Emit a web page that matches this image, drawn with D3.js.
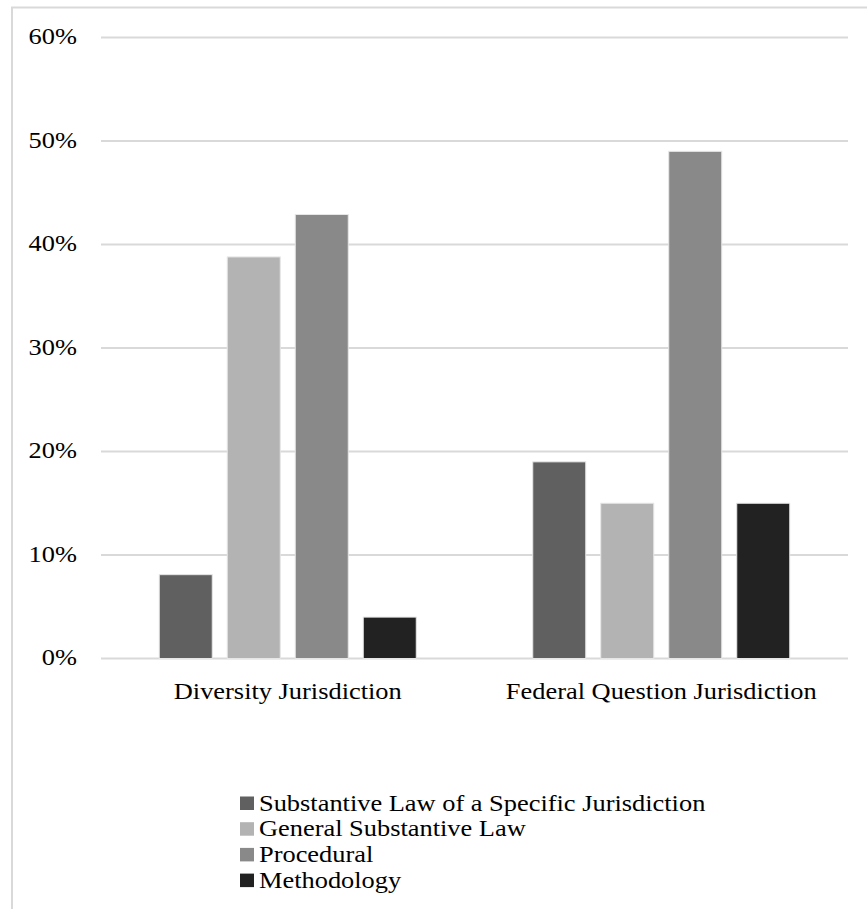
<!DOCTYPE html>
<html><head><meta charset="utf-8">
<script src="https://cdn.jsdelivr.net/npm/d3@7"></script>
<style>body{margin:0;background:#fff;} svg{display:block;}</style>
</head><body>
<script>
const categories = ["Diversity Jurisdiction", "Federal Question Jurisdiction"];
const seriesNames = ["Substantive Law of a Specific Jurisdiction", "General Substantive Law", "Procedural", "Methodology"];
const seriesValues = [
  [0.081, 0.19],
  [0.388, 0.15],
  [0.429, 0.49],
  [0.04, 0.15]
];
const seriesColors = ["#606060", "#b3b3b3", "#898989", "#222222"];
const yTicks = [0, 0.1, 0.2, 0.3, 0.4, 0.5, 0.6];

const W = 867, H = 909;
const FONT = "'Liberation Serif', 'Times New Roman', serif";
const FS = 24, SX = 1.1;
const svg = d3.select("body").append("svg").attr("width", W).attr("height", H);

function stretch(sel) {
  sel.each(function() {
    const t = d3.select(this);
    const x = +t.attr("x") || 0, y = +t.attr("y") || 0;
    t.attr("x", 0).attr("y", 0)
     .attr("transform", `translate(${x},${y}) scale(${SX},1)`)
     .style("font-family", FONT).style("font-size", FS + "px").attr("fill", "#000");
  });
}

svg.append("rect").attr("x", 12).attr("y", 7.5).attr("width", W).attr("height", H)
  .attr("fill", "#fff").attr("stroke", "#d9d9d9").attr("stroke-width", 2);

const x0 = d3.scaleBand().domain(categories).range([101, 848]).padding(0);
const x1 = d3.scaleBand().domain(d3.range(seriesNames.length)).range([0, x0.bandwidth()])
  .paddingInner(15/68).paddingOuter(0.8566);
const y = d3.scaleLinear().domain([0, 0.6]).range([658.5, 37.5]);

svg.append("g").selectAll("line").data(yTicks).join("line")
  .attr("x1", 101).attr("x2", 848)
  .attr("y1", d => y(d)).attr("y2", d => y(d))
  .attr("stroke", "#d9d9d9").attr("stroke-width", 2);

const yAxis = svg.append("g").attr("transform", "translate(101,0)")
  .call(d3.axisLeft(y).tickValues(yTicks).tickFormat(d3.format(".0%")).tickSize(0).tickPadding(24));
yAxis.select(".domain").remove();
yAxis.selectAll("text").attr("dy", "0.25em").call(stretch);

const groups = svg.append("g").selectAll("g").data(categories).join("g")
  .attr("transform", d => `translate(${x0(d)},0)`);
groups.selectAll("rect").data((c, ci) => seriesValues.map((vals, si) => ({si, v: vals[ci]})))
  .join("rect")
  .attr("x", d => x1(d.si)).attr("width", x1.bandwidth())
  .attr("y", d => y(d.v)).attr("height", d => y(0) - y(d.v))
  .attr("fill", d => seriesColors[d.si])
  .attr("stroke", "#e6e6e6").attr("stroke-width", 1);

const xAxis = svg.append("g").attr("transform", `translate(0,${y(0)})`)
  .call(d3.axisBottom(x0).tickSize(0).tickPadding(23));
xAxis.select(".domain").remove();
xAxis.selectAll("text").call(stretch);

const legend = svg.append("g").attr("transform", "translate(240,803)");
const li = legend.selectAll("g").data(seriesNames).join("g")
  .attr("transform", (d, i) => `translate(0,${i * 25.7})`);
li.append("rect").attr("x", 0).attr("y", -6.5).attr("width", 14).attr("height", 13.5)
  .attr("fill", (d, i) => seriesColors[i]);
li.append("text").attr("x", 19).attr("y", 7.5).text(d => d).call(stretch);
</script>
</body></html>
